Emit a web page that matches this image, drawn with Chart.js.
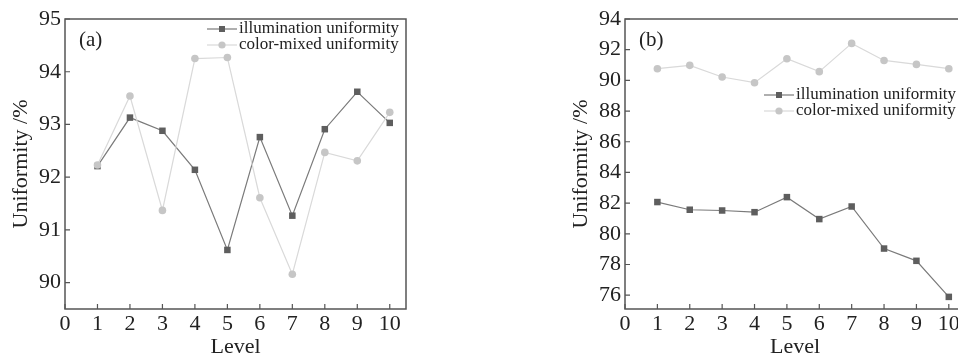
<!DOCTYPE html>
<html>
<head>
<meta charset="utf-8">
<script src="https://cdn.jsdelivr.net/npm/chart.js@4.4.1/dist/chart.umd.min.js"></script>
<style>
  html, body { margin: 0; padding: 0; background: #fff; overflow: hidden; }
  #wrap { position: relative; width: 958px; height: 353px; overflow: hidden; }
  .box { position: absolute; top: 0; height: 353px; }
  #boxA { left: 0; width: 430px; }
  #boxB { left: 560px; width: 420px; }
</style>
</head>
<body>
<div id="wrap">
  <div class="box" id="boxA"><canvas id="chartA"></canvas></div>
  <div class="box" id="boxB"><canvas id="chartB"></canvas></div>
</div>
<script>
// データ
const levels = [1, 2, 3, 4, 5, 6, 7, 8, 9, 10];
const seriesNames = ['illumination uniformity', 'color-mixed uniformity'];

// (a)
const illumA = [92.21, 93.13, 92.88, 92.14, 90.62, 92.76, 91.27, 92.91, 93.62, 93.03];
const mixedA = [92.23, 93.54, 91.37, 94.25, 94.27, 91.61, 90.16, 92.47, 92.31, 93.23];
// (b)
const illumB = [82.07, 81.57, 81.52, 81.41, 82.39, 80.96, 81.78, 79.04, 78.24, 75.89];
const mixedB = [90.76, 90.98, 90.22, 89.85, 91.41, 90.57, 92.41, 91.30, 91.04, 90.76];

const xTicks = [0, 1, 2, 3, 4, 5, 6, 7, 8, 9, 10];
const yTicksA = [90, 91, 92, 93, 94, 95];
const yTicksB = [76, 78, 80, 82, 84, 86, 88, 90, 92, 94];

const SERIF = '"Liberation Serif", "DejaVu Serif", serif';
const frameColor = '#555';
const illumStyle = { line: '#7a7a7a', point: '#5e5e5e', shape: 'rect', radius: 4.6 };
const mixedStyle = { line: '#d9d9d9', point: '#c6c6c6', shape: 'circle', radius: 3.8 };

const toXY = (vals) => vals.map((v, i) => ({ x: levels[i], y: v }));

// 枠線 + 内向き目盛り + 凡例 + パネル記号
const framePlugin = {
  id: 'frame',
  afterDatasetsDraw(chart, args, opts) {
    const { ctx, chartArea: a, scales } = chart;
    ctx.save();
    ctx.strokeStyle = frameColor;
    ctx.lineWidth = 1.5;
    ctx.strokeRect(a.left, a.top, a.right - a.left, a.bottom - a.top);
    // 内向き目盛り
    ctx.lineWidth = 1.2;
    ctx.beginPath();
    scales.x.ticks.forEach(t => {
      const px = scales.x.getPixelForValue(t.value);
      ctx.moveTo(px, a.bottom);
      ctx.lineTo(px, a.bottom - 5);
    });
    scales.y.ticks.forEach(t => {
      const py = scales.y.getPixelForValue(t.value);
      ctx.moveTo(a.left, py);
      ctx.lineTo(a.left + 5, py);
    });
    ctx.stroke();

    // パネル記号
    ctx.fillStyle = '#222';
    ctx.font = '21px ' + SERIF;
    ctx.textBaseline = 'middle';
    ctx.textAlign = 'left';
    ctx.fillText(opts.panel, a.left + 14, a.top + 21);

    // 凡例
    ctx.font = '17px ' + SERIF;
    const styles = [illumStyle, mixedStyle];
    seriesNames.forEach((name, i) => {
      const s = styles[i];
      const y = opts.legendY + i * 16;
      const x0 = opts.legendX;
      ctx.strokeStyle = s.line;
      ctx.lineWidth = 1.2;
      ctx.beginPath();
      ctx.moveTo(x0, y);
      ctx.lineTo(x0 + 30, y);
      ctx.stroke();
      ctx.fillStyle = s.point;
      if (s.shape === 'rect') {
        ctx.fillRect(x0 + 15 - 3, y - 3, 6, 6);
      } else {
        ctx.beginPath();
        ctx.arc(x0 + 15, y, 3.6, 0, Math.PI * 2);
        ctx.fill();
      }
      ctx.fillStyle = '#222';
      ctx.fillText(name, x0 + 32, y);
    });
    ctx.restore();
  }
};

const makeDataset = (label, vals, s) => ({
  label,
  data: toXY(vals),
  borderColor: s.line,
  borderWidth: 1.2,
  backgroundColor: s.point,
  pointStyle: s.shape,
  pointRadius: s.radius,
  pointBorderWidth: 0,
  pointBackgroundColor: s.point,
  tension: 0
});

/* ==================================================
  パネル描画
================================================== */
const renderPanel = (id, illum, mixed, yTicks, yMin, yMax, padRight, legend) => {
  const ctx = document.getElementById(id).getContext('2d');
  new Chart(ctx, {
    type: 'line',
    data: {
      datasets: [
        makeDataset(seriesNames[1], mixed, mixedStyle),
        makeDataset(seriesNames[0], illum, illumStyle)
      ]
    },
    options: {
      responsive: true,
      maintainAspectRatio: false,
      animation: false,
      layout: { padding: { top: 19, right: padRight, left: 0, bottom: 0 } },
      plugins: {
        legend: { display: false },
        tooltip: { enabled: false },
        frame: legend
      },
      scales: {
        x: {
          type: 'linear',
          min: 0,
          max: 10.5,
          afterBuildTicks: s => { s.ticks = xTicks.map(v => ({ value: v })); },
          afterFit: s => { s.height = 44; },
          grid: { display: false, drawTicks: false },
          border: { display: false },
          ticks: { color: '#222', padding: 2, maxRotation: 0, font: { family: SERIF, size: 22 } },
          title: { display: true, text: 'Level', color: '#222', padding: { top: 0, bottom: -5 }, font: { family: SERIF, size: 22, lineHeight: 1 } }
        },
        y: {
          min: yMin,
          max: yMax,
          afterBuildTicks: s => { s.ticks = yTicks.map(v => ({ value: v })); },
          afterFit: s => { s.width = 65; },
          grid: { display: false, drawTicks: false },
          border: { display: false },
          ticks: { color: '#222', padding: 4, font: { family: SERIF, size: 22 } },
          title: { display: true, text: 'Uniformity /%', color: '#222', padding: { top: 10, bottom: 0 }, font: { family: SERIF, size: 22, lineHeight: 1 } }
        }
      }
    },
    plugins: [framePlugin]
  });
};

renderPanel('chartA', illumA, mixedA, yTicksA, 89.5, 95, 24, { panel: '(a)', legendX: 207, legendY: 29 });
renderPanel('chartB', illumB, mixedB, yTicksB, 75.1, 94, 15, { panel: '(b)', legendX: 204, legendY: 95 });
</script>
</body>
</html>
